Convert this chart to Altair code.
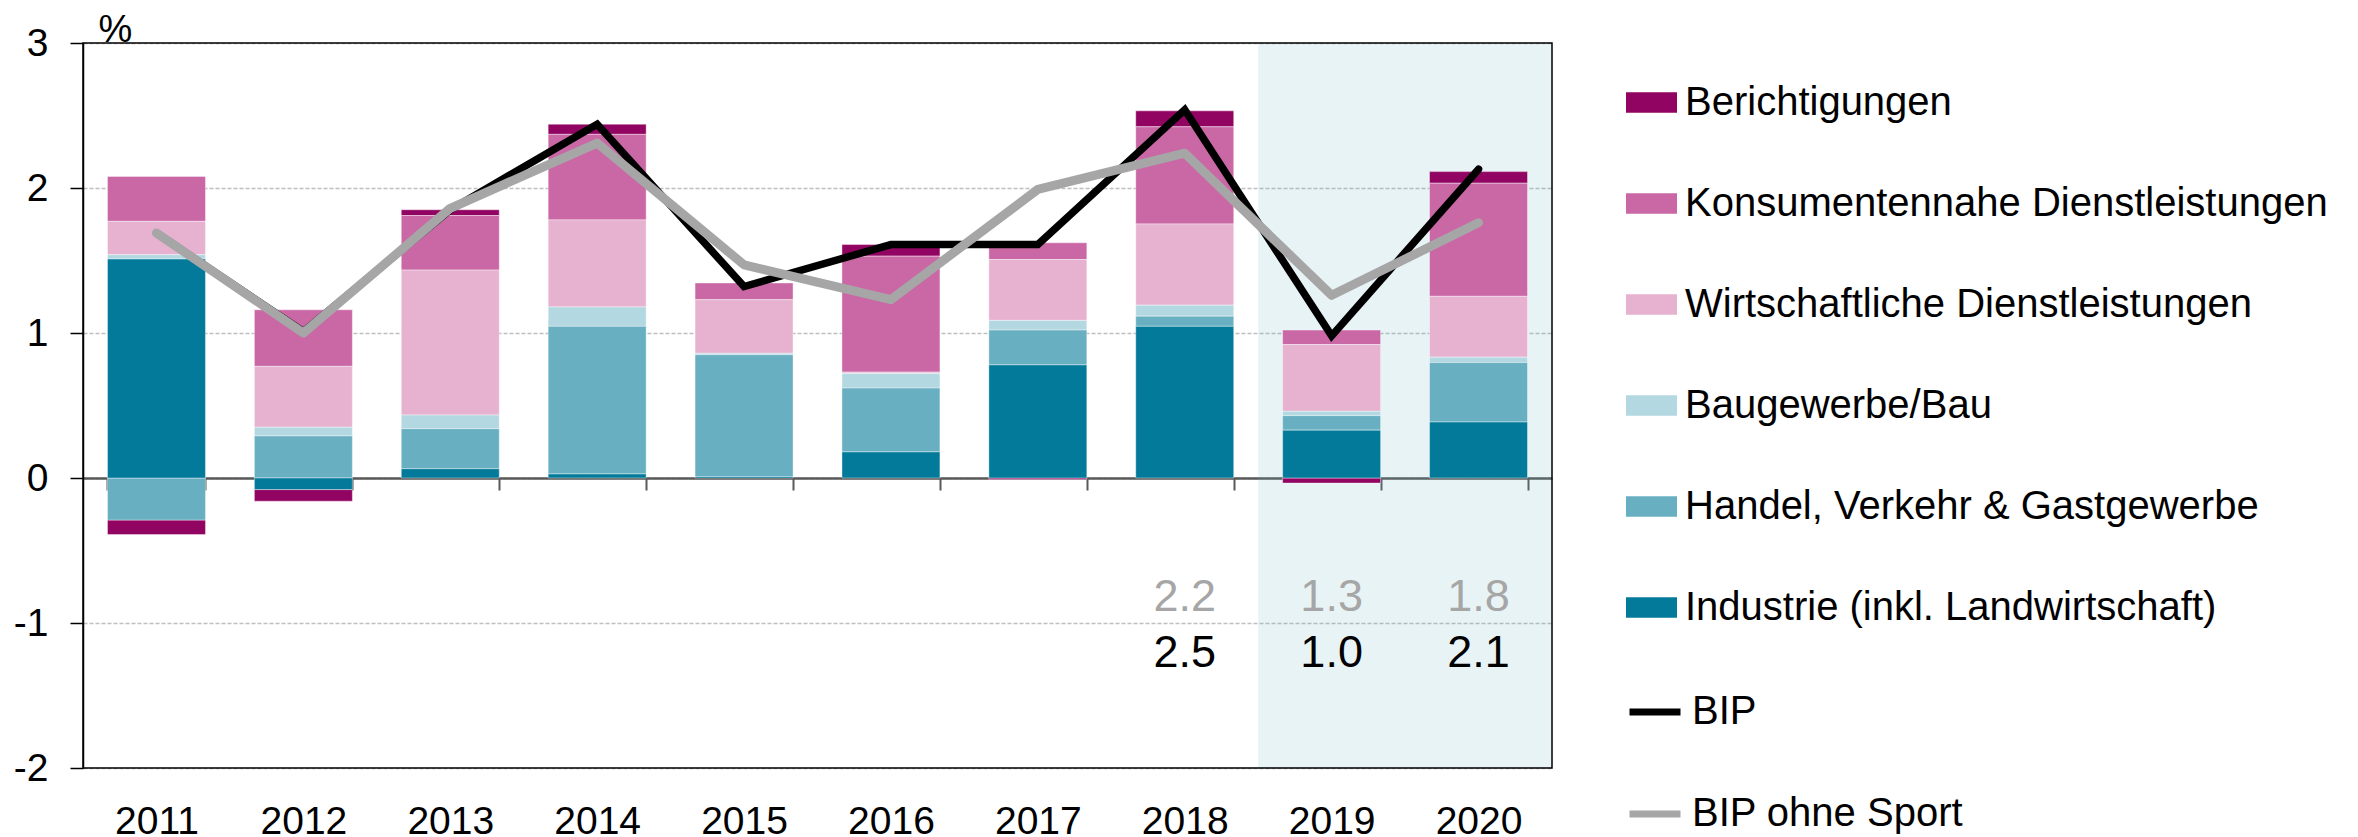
import altair as alt
import pandas as pd

# ---------------- data ----------------
years = ["2011", "2012", "2013", "2014", "2015", "2016", "2017", "2018", "2019", "2020"]

industrie = [1.51, -0.08, 0.064, 0.028, 0.01, 0.18, 0.78, 1.046, 0.33, 0.386]
handel = [-0.29, 0.29, 0.276, 1.018, 0.84, 0.44, 0.24, 0.07, 0.10, 0.41]
bau = [0.03, 0.06, 0.094, 0.134, 0.01, 0.10, 0.067, 0.076, 0.03, 0.037]
wirtschaftlich = [0.23, 0.42, 1.00, 0.60, 0.37, 0.01, 0.42, 0.56, 0.46, 0.42]
konsum = [0.31, 0.39, 0.376, 0.59, 0.115, 0.80, 0.115, 0.67, 0.10, 0.78]
berichtigungen = [-0.10, -0.08, 0.04, 0.07, 0.0, 0.08, -0.01, 0.11, -0.035, 0.08]

bip = [1.69, 1.01, 1.85, 2.44, 1.32, 1.61, 1.61, 2.54, 0.98, 2.13]
bip_ohne_sport = [1.69, 1.00, 1.86, 2.31, 1.47, 1.23, 1.99, 2.24, 1.26, 1.76]

label_years = ["2018", "2019", "2020"]
labels_bip = ["2.5", "1.0", "2.1"]
labels_ohne_sport = ["2.2", "1.3", "1.8"]

prognose_start = "2019"

sector_names = [
    "Berichtigungen",
    "Konsumentennahe Dienstleistungen",
    "Wirtschaftliche Dienstleistungen",
    "Baugewerbe/Bau",
    "Handel, Verkehr & Gastgewerbe",
    "Industrie (inkl. Landwirtschaft)",
]
sector_values = [berichtigungen, konsum, wirtschaftlich, bau, handel, industrie]
sector_colors = ["#910462", "#CA67A5", "#E6B2D0", "#B3D8E1", "#68AFC1", "#037A99"]

line_names = ["BIP", "BIP ohne Sport"]
line_colors = ["#000000", "#A6A6A6"]

# ---------------- layout / style ----------------
W, H = 1469, 725
YMIN, YMAX = -2, 3
FONT = "Liberation Sans"
zero_offset = -H * (0 - YMIN) / (YMAX - YMIN)

# ---------------- tables ----------------
n_sec = len(sector_names)
bar_rows = []
for i, (name, vals) in enumerate(zip(sector_names, sector_values)):
    for yr, v in zip(years, vals):
        bar_rows.append({"Jahr": yr, "Sektor": name, "Wert": v, "Ordnung": n_sec - 1 - i})
bars_df = pd.DataFrame(bar_rows)

bip_df = pd.DataFrame({"Jahr": years, "Wert": bip, "Serie": line_names[0]})
ohne_df = pd.DataFrame({"Jahr": years, "Wert": bip_ohne_sport, "Serie": line_names[1]})
txt_bip_df = pd.DataFrame({"Jahr": label_years, "Text": labels_bip})
txt_ohne_df = pd.DataFrame({"Jahr": label_years, "Text": labels_ohne_sport})

shade_df = pd.DataFrame({"start": [years.index(prognose_start)], "end": [len(years)],
                         "top": [YMAX], "bottom": [YMIN]})
frame_df = pd.DataFrame({"start": [0], "end": [len(years)], "top": [YMAX], "bottom": [YMIN]})

# ---------------- scales / encodings ----------------
y_scale = alt.Scale(domain=[YMIN, YMAX], nice=False, zero=False)
fill_scale = alt.Scale(domain=sector_names, range=sector_colors)
stroke_scale = alt.Scale(domain=line_names, range=line_colors)

x_axis = alt.Axis(
    title=None, orient="bottom", offset=zero_offset,
    domainColor="#595959", domainWidth=2.5,
    tickColor="#595959", tickWidth=2, tickSize=12, tickBand="extent",
    labelPadding=312, labelFontSize=39, labelFont=FONT, labelColor="black",
    labelAngle=0, grid=False,
)
x_band = alt.X("Jahr:N", sort=years,
               scale=alt.Scale(type="band", paddingInner=0.333, paddingOuter=0.1667),
               axis=x_axis)
x_plain = alt.X("Jahr:N", sort=years)

y_axis = alt.Axis(
    values=[-2, -1, 0, 1, 2, 3], labelExpr="'' + datum.value",
    title="%", titleAngle=0, titleAlign="left", titleBaseline="alphabetic",
    titleX=15, titleY=-2, titleFontSize=38, titleFontWeight="normal", titleFont=FONT,
    titleColor="black",
    labelFontSize=39, labelFont=FONT, labelColor="black", labelPadding=22,
    tickSize=13, tickColor="black", tickWidth=1.5,
    domainColor="black", domainWidth=1.5,
    grid=True, gridColor="#BFBFBF", gridDash=[4, 2], gridWidth=1.5,
)

def y_enc(field):
    return alt.Y(field, scale=y_scale, axis=y_axis, title="%")

fill_legend = alt.Legend(
    title=None, orient="none", legendX=1543, legendY=34, direction="vertical",
    symbolType="M-1,-0.4H1V0.4H-1Z", symbolSize=2601, symbolStrokeWidth=0,
    symbolOpacity=1, labelFontSize=40, labelFont=FONT, labelColor="black",
    labelOffset=8, labelLimit=1000, rowPadding=55, padding=0,
)
stroke_legend = alt.Legend(
    title=None, orient="none", legendX=1543, legendY=640, direction="vertical",
    symbolType="stroke", symbolSize=2601, symbolStrokeWidth=7,
    labelFontSize=40, labelFont=FONT, labelColor="black",
    labelOffset=8, labelLimit=1000, rowPadding=53, padding=0,
)

# ---------------- layers ----------------
bars = alt.Chart(bars_df).mark_bar(stroke="white", strokeWidth=0.8, strokeOpacity=0.5).encode(
    x=x_band,
    y=alt.Y("Wert:Q", stack="zero", scale=y_scale, axis=y_axis, title="%"),
    fill=alt.Fill("Sektor:N", scale=fill_scale, legend=fill_legend),
    order=alt.Order("Ordnung:Q", sort="ascending"),
)

line_bip = alt.Chart(bip_df).mark_line(strokeWidth=7.5, strokeJoin="miter", strokeCap="round").encode(
    x=x_plain, y=y_enc("Wert:Q"),
    stroke=alt.Stroke("Serie:N", scale=stroke_scale, legend=stroke_legend),
)
line_ohne = alt.Chart(ohne_df).mark_line(strokeWidth=9, strokeJoin="round", strokeCap="round").encode(
    x=x_plain, y=y_enc("Wert:Q"),
    stroke=alt.Stroke("Serie:N", scale=stroke_scale, legend=stroke_legend),
)

text_ohne = alt.Chart(txt_ohne_df).mark_text(
    font=FONT, fontSize=45, align="center", baseline="alphabetic", color="#A6A6A6"
).encode(x=x_plain, y=alt.datum(-0.92), text="Text:N")
text_bip = alt.Chart(txt_bip_df).mark_text(
    font=FONT, fontSize=45, align="center", baseline="alphabetic", color="#000000"
).encode(x=x_plain, y=alt.datum(-1.30), text="Text:N")

inner = alt.layer(bars, line_bip, line_ohne, text_ohne, text_bip)

xq_scale = alt.Scale(domain=[0, len(years)], nice=False, zero=False)
shade = alt.Chart(shade_df).mark_rect(fill="#68AFC1", opacity=0.15).encode(
    x=alt.X("start:Q", scale=xq_scale, axis=None), x2="end:Q",
    y=y_enc("top:Q"), y2="bottom:Q",
)
frame = alt.Chart(frame_df).mark_rect(fillOpacity=0, stroke="black", strokeWidth=1.5).encode(
    x=alt.X("start:Q", scale=xq_scale, axis=None), x2="end:Q",
    y=y_enc("top:Q"), y2="bottom:Q",
)

chart = (
    alt.layer(shade, inner, frame)
    .resolve_scale(x="independent")
    .properties(width=W, height=H, padding={"left": 5, "top": 3, "right": 5, "bottom": 5})
    .configure(font=FONT)
    .configure_view(stroke="transparent")
)

chart.save("out.html", embed_options={"renderer": "svg", "actions": False})
